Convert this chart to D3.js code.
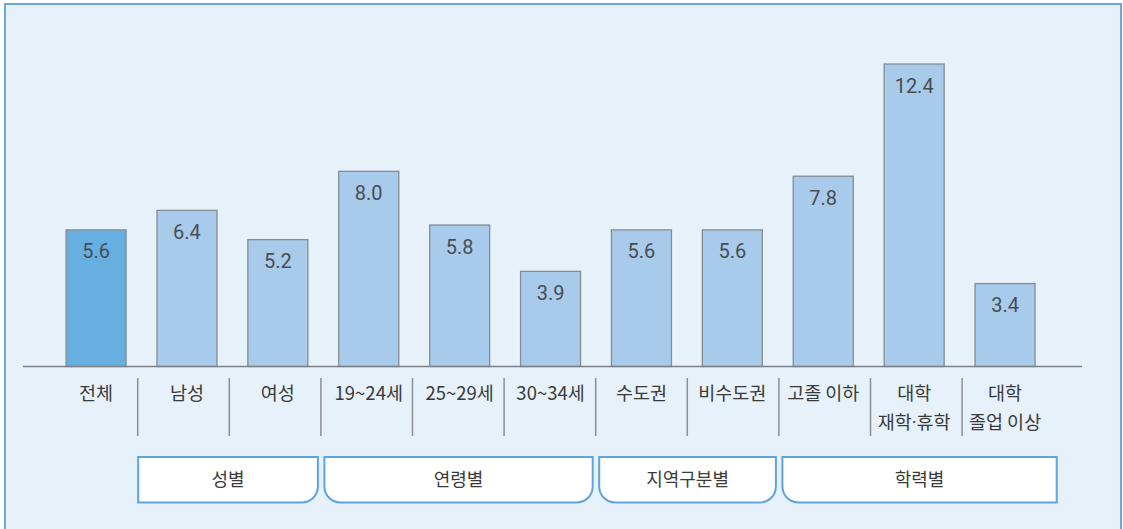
<!DOCTYPE html>
<html><head><meta charset="utf-8">
<script src="https://cdn.jsdelivr.net/npm/d3@7"></script>
<style>
html,body{margin:0;padding:0;background:#fff;}
svg{display:block;}
</style>
</head><body>
<script>
// ---- data ----
const categories = ["전체","남성","여성","19~24세","25~29세","30~34세","수도권","비수도권","고졸 이하","대학\n재학·휴학","대학\n졸업 이상"];
const values = [5.6, 6.4, 5.2, 8.0, 5.8, 3.9, 5.6, 5.6, 7.8, 12.4, 3.4];
const groupNames = ["성별","연령별","지역구분별","학력별"];
const groupStart = [1, 3, 6, 8];
const groupEnd = [2, 5, 7, 10];

// ---- layout ----
const W = 1123, H = 529;
const svg = d3.select("body").append("svg").attr("width", W).attr("height", H);

svg.append("rect").attr("x",0).attr("y",0).attr("width",W).attr("height",H).attr("fill","#ffffff");
svg.append("rect").attr("x",5).attr("y",4).attr("width",1116).attr("height",H+20)
  .attr("fill","#e7f1fa").attr("stroke","#6aa9df").attr("stroke-width",2);

const x = d3.scaleBand().domain(d3.range(categories.length)).range([50.6, 1050.5])
  .paddingInner(0.34).paddingOuter(0.17);
// category cells (separators / group boxes)
const cell = d3.scaleBand().domain(d3.range(categories.length)).range([46.1, 1053.7]);
const y = d3.scaleLinear().domain([0, 12.4]).range([366.5, 64]);

// bars
svg.selectAll("rect.bar").data(values).join("rect")
  .attr("class","bar")
  .attr("x",(d,i)=>x(i)).attr("width",x.bandwidth())
  .attr("y",d=>y(d)).attr("height",d=>y(0)-y(d))
  .attr("fill",(d,i)=> i===0 ? "#67afe1" : "#a8cbeb")
  .attr("stroke","#858c94").attr("stroke-width",1.3);

// value labels
svg.selectAll("text.val").data(values).join("text")
  .attr("class","val")
  .attr("x",(d,i)=>x(i)+x.bandwidth()/2).attr("y",d=>y(d)+28.5)
  .attr("text-anchor","middle")
  .attr("font-family","Roboto, 'Noto Sans', sans-serif").attr("font-size",20)
  .attr("fill","#484d53")
  .text(d=>d.toFixed(1));

// baseline axis
svg.append("line").attr("x1",23).attr("x2",1082).attr("y1",y(0)).attr("y2",y(0))
  .attr("stroke","#7d8084").attr("stroke-width",1.6);

// separators
svg.selectAll("line.sep").data(d3.range(1, categories.length)).join("line")
  .attr("class","sep")
  .attr("x1",i=>cell(i)).attr("x2",i=>cell(i))
  .attr("y1",378).attr("y2",436)
  .attr("stroke","#8c8f93").attr("stroke-width",1.5);

// category labels
categories.forEach((d,i)=>{
  const lines = d.split("\n");
  lines.forEach((l,j)=>{
    const t = svg.append("text")
      .attr("x", x(i)+x.bandwidth()/2)
      .attr("y", 399.5+j*29)
      .attr("text-anchor","middle")
      .attr("font-family","'Noto Sans CJK KR', sans-serif").attr("font-size",18.5)
      .attr("fill","#3a3a3a");
    const parts = l.split("·");
    parts.forEach((p,k)=>{
      if(k>0) t.append("tspan").attr("font-family","Roboto, sans-serif").text("·");
      t.append("tspan").text(p);
    });
  });
});

// group boxes
function boxPath(x0,y0,x1,y1,rbl,rbr){
  const p = d3.path();
  p.moveTo(x0,y0);
  p.lineTo(x1,y0);
  p.lineTo(x1,y1-rbr);
  if(rbr>0) p.arcTo(x1,y1,x1-rbr,y1,rbr);
  p.lineTo(x0+rbl,y1);
  if(rbl>0) p.arcTo(x0,y1,x0,y1-rbl,rbl);
  p.closePath();
  return p.toString();
}
const nG = groupNames.length;
groupNames.forEach((g,k)=>{
  let left = cell(groupStart[k]);
  let right = cell(groupEnd[k]) + cell.step();
  left += (k===0) ? 0.5 : 3.5;
  right += (k===nG-1) ? 3 : -3;
  const rbl = k===0 ? 0 : 16;
  const rbr = k===nG-1 ? 0 : 16;
  svg.append("path").attr("d",boxPath(left,457,right,502.5,rbl,rbr))
    .attr("fill","#ffffff").attr("stroke","#5ea4de").attr("stroke-width",2);
  svg.append("text").attr("x",(left+right)/2).attr("y",486)
    .attr("text-anchor","middle")
    .attr("font-family","'Noto Sans CJK KR', sans-serif").attr("font-size",18)
    .attr("fill","#3a3a3a")
    .text(g);
});
</script>
</body></html>
